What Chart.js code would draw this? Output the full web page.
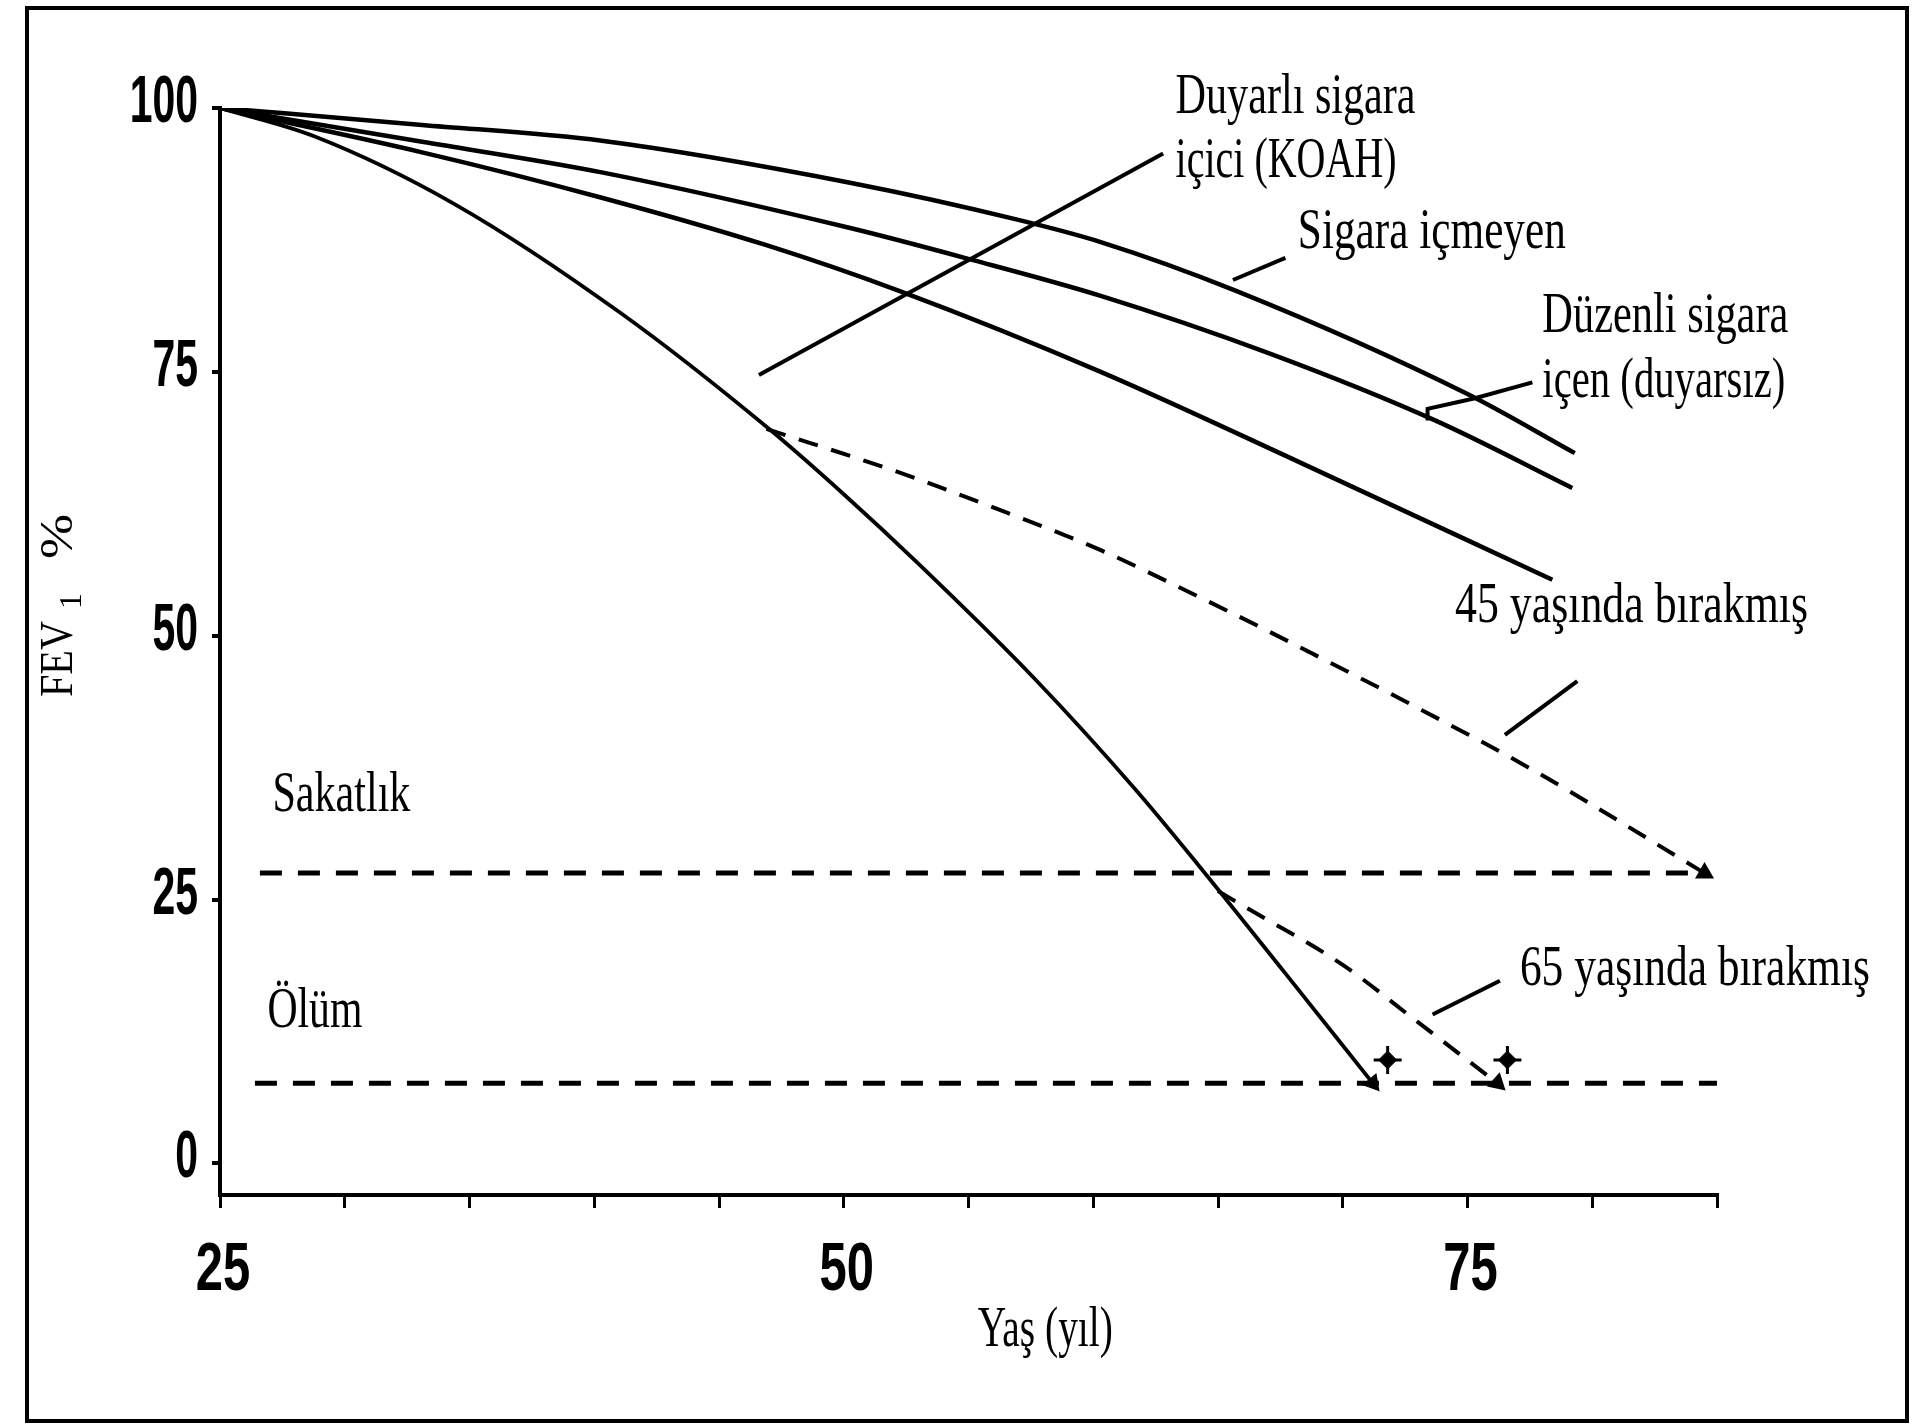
<!DOCTYPE html>
<html>
<head>
<meta charset="utf-8">
<script src="https://cdn.jsdelivr.net/npm/chart.js@4.4.1/dist/chart.umd.min.js"></script>
<style>
  html, body { margin: 0; padding: 0; background: #fff; }
  #wrap { width: 1928px; height: 1426px; }
</style>
</head>
<body>
<div id="wrap"><canvas id="myChart" width="1928" height="1426"></canvas></div>
<script>
// ---- data (age in years, FEV1 in %) ----
var ageNonSmoker = [25, 33.1, 40.3, 50.3, 57.0, 60.3, 65.7, 75.0, 79.3];
var fevNonSmoker = [100, 98.4, 96.9, 92.9, 89.4, 87.3, 82.7, 72.9, 67.3];

var ageRegular = [25, 33.1, 40.3, 50.3, 55.0, 60.3, 67.0, 73.7, 79.2];
var fevRegular = [100, 96.8, 93.9, 88.6, 85.7, 82.2, 76.8, 70.4, 64.0];

var ageThird = [25, 33.1, 40.3, 46.9, 52.3, 60.3, 68.3, 78.4];
var fevThird = [100, 95.8, 91.5, 87.0, 82.6, 75.0, 66.4, 55.3];

var ageKoah = [25, 28.8, 34.4, 41.1, 47.0, 50.0, 53.0, 57.7, 61.7, 64.2, 67.7, 71.2];
var fevKoah = [100, 97.3, 90.9, 80.5, 69.6, 63.4, 56.8, 45.8, 35.4, 28.3, 18.0, 7.6];

var ageQuit45 = [46.9, 52.3, 55.6, 60.3, 64.3, 66.7, 68.7, 72.4, 77.6, 84.5];
var fevQuit45 = [69.6, 65.4, 62.5, 58.1, 53.6, 50.8, 48.4, 43.9, 37.3, 27.5];

var ageQuit65 = [65.0, 66.3, 70.0, 73.0, 76.2];
var fevQuit65 = [25.8, 24.0, 18.8, 13.4, 7.6];

var ageDisability = [26.6, 84.7];
var fevDisability = [27.5, 27.5];
var ageDeath = [26.4, 85];
var fevDeath = [7.6, 7.6];

var ageDeathMarks = [71.8, 76.6];
var fevDeathMarks = [9.8, 9.8];

// leader lines from the labels to the curves
var ptrKoahX = [46.6, 62.8];        var ptrKoahY = [74.7, 95.7];
var ptrNonSmokerX = [65.6, 67.7];   var ptrNonSmokerY = [83.7, 85.8];
var ptrRegularX = [77.6, 75.3, 73.4, 73.4]; var ptrRegularY = [74.0, 72.5, 71.5, 70.4];
var ptrQuit45X = [76.5, 79.4];      var ptrQuit45Y = [40.6, 45.7];
var ptrQuit65X = [73.6, 76.3];      var ptrQuit65Y = [14.1, 17.3];

// ticks
var xTicks = [25, 30, 35, 40, 45, 50, 55, 60, 65, 70, 75, 80, 85];
var xTickLabels = ['25', '50', '75'];
var yTicks = [0, 25, 50, 75, 100];
var yTickLabels = ['0', '25', '50', '75', '100'];

// texts on the plot
var noteTexts = ['Duyarlı sigara', 'içici (KOAH)', 'Sigara içmeyen', 'Düzenli sigara', 'içen (duyarsız)',
                 '45 yaşında bırakmış', '65 yaşında bırakmış', 'Sakatlık', 'Ölüm'];
var noteAge = [63.3, 63.3, 68.2, 78.0, 78.0, 74.5, 77.1, 27.1, 26.9];
var noteFev = [99.5, 93.5, 86.7, 78.8, 72.6, 51.3, 16.9, 33.4, 12.9];

function pts(xs, ys) {
  return xs.map(function (x, i) { return {x: x, y: ys[i]}; });
}

function curve(xs, ys, width, dash, arrowRot) {
  return {
    data: pts(xs, ys),
    borderColor: '#000',
    backgroundColor: '#000',
    borderWidth: width,
    borderDash: dash || [],
    cubicInterpolationMode: 'monotone',
    pointStyle: 'triangle',
    pointRotation: arrowRot || 0,
    pointRadius: function (c) {
      return (arrowRot && c.dataIndex === c.dataset.data.length - 1) ? 7 : 0;
    },
    pointHoverRadius: 0
  };
}

function pointer(xs, ys) {
  return {
    data: pts(xs, ys),
    borderColor: '#000',
    borderWidth: 4,
    tension: 0,
    pointRadius: 0,
    pointHoverRadius: 0
  };
}

// width of each note in px (the printed face is condensed)
var noteWidths = [240, 221, 268, 246, 243, 353, 350, 138, 95];

// draw a string squeezed to a given width
function fitText(ctx, str, x, y, width) {
  var w0 = ctx.measureText(str).width;
  ctx.save();
  ctx.translate(x, y);
  ctx.scale(width / w0, 1);
  ctx.fillText(str, 0, 0);
  ctx.restore();
}

var decorations = {
  id: 'decorations',
  afterDraw: function (chart) {
    var ctx = chart.ctx;
    var xs = chart.scales.x, ys = chart.scales.y;
    ctx.save();
    ctx.fillStyle = '#000';
    ctx.strokeStyle = '#000';

    // outer frame
    ctx.lineWidth = 4;
    ctx.strokeRect(27, 8, 1880, 1413);

    // y tick labels (bold condensed)
    ctx.font = 'bold 66px "Liberation Sans"';
    ctx.textBaseline = 'alphabetic';
    ctx.textAlign = 'right';
    yTicks.forEach(function (v, i) {
      var py = ys.getPixelForValue(v) + 14;
      ctx.save();
      ctx.translate(xs.left - 22, py);
      ctx.scale(0.62, 1);
      ctx.fillText(yTickLabels[i], 0, 0);
      ctx.restore();
    });

    // x tick labels
    ctx.font = 'bold 68px "Liberation Sans"';
    ctx.textAlign = 'center';
    xTickLabels.forEach(function (lbl) {
      var px = xs.getPixelForValue(Number(lbl)) + 3;
      ctx.save();
      ctx.translate(px, 1290);
      ctx.scale(0.72, 1);
      ctx.fillText(lbl, 0, 0);
      ctx.restore();
    });

    // notes
    ctx.font = '56px "Liberation Serif"';
    ctx.textAlign = 'left';
    noteTexts.forEach(function (t, i) {
      fitText(ctx, t, xs.getPixelForValue(noteAge[i]), ys.getPixelForValue(noteFev[i]), noteWidths[i]);
    });

    // x axis title
    fitText(ctx, 'Yaş (yıl)', xs.getPixelForValue(58.1) - 68, 1346, 135);

    // y axis title: FEV1 %
    ctx.save();
    ctx.translate(72, 697);
    ctx.rotate(-Math.PI / 2);
    ctx.font = '46px "Liberation Serif"';
    fitText(ctx, 'FEV', 0, 0, 76);
    ctx.font = '31px "Liberation Serif"';
    fitText(ctx, '1', 88, 9, 16);
    ctx.font = '46px "Liberation Serif"';
    fitText(ctx, '%', 138, 0, 45);
    ctx.restore();

    ctx.restore();
  }
};

var ctx = document.getElementById('myChart').getContext('2d');

var myChart = new Chart(ctx, {
  type: 'line',
  data: {
    datasets: [
      curve(ageNonSmoker, fevNonSmoker, 4.5),
      curve(ageRegular, fevRegular, 4.5),
      curve(ageThird, fevThird, 4.5),
      curve(ageKoah, fevKoah, 3.8, null, 140),
      curve(ageQuit45, fevQuit45, 4, [20, 14], 120),
      curve(ageQuit65, fevQuit65, 4, [20, 14], 132),
      curve(ageDisability, fevDisability, 5, [22, 16]),
      curve(ageDeath, fevDeath, 5, [22, 16]),
      pointer(ptrKoahX, ptrKoahY),
      pointer(ptrNonSmokerX, ptrNonSmokerY),
      pointer(ptrRegularX, ptrRegularY),
      pointer(ptrQuit45X, ptrQuit45Y),
      pointer(ptrQuit65X, ptrQuit65Y),
      // death marks: small diamond with a cross
      {
        type: 'scatter',
        data: pts(ageDeathMarks, fevDeathMarks),
        pointStyle: 'rectRot',
        pointRadius: 9,
        backgroundColor: '#000',
        borderColor: '#000',
        borderWidth: 1
      },
      {
        type: 'scatter',
        data: pts(ageDeathMarks, fevDeathMarks),
        pointStyle: 'cross',
        pointRadius: 14,
        borderColor: '#000',
        borderWidth: 3
      }
    ]
  },
  options: {
    responsive: false,
    animation: false,
    events: [],
    layout: { padding: { left: 212, right: 211, top: 108, bottom: 218 } },
    plugins: {
      legend: { display: false },
      tooltip: { enabled: false }
    },
    scales: {
      x: {
        type: 'linear',
        min: 25,
        max: 85,
        border: { color: '#000', width: 4 },
        grid: { drawOnChartArea: false, drawTicks: true, tickLength: 13, color: '#000', lineWidth: 3 },
        ticks: { display: false },
        afterBuildTicks: function (s) { s.ticks = xTicks.map(function (v) { return {value: v}; }); }
      },
      y: {
        type: 'linear',
        min: -3,
        max: 100,
        border: { color: '#000', width: 4 },
        grid: { drawOnChartArea: false, drawTicks: true, tickLength: 8, color: '#000', lineWidth: 4 },
        ticks: { display: false },
        afterBuildTicks: function (s) { s.ticks = yTicks.map(function (v) { return {value: v}; }); }
      }
    }
  },
  plugins: [decorations]
});
</script>
</body>
</html>
